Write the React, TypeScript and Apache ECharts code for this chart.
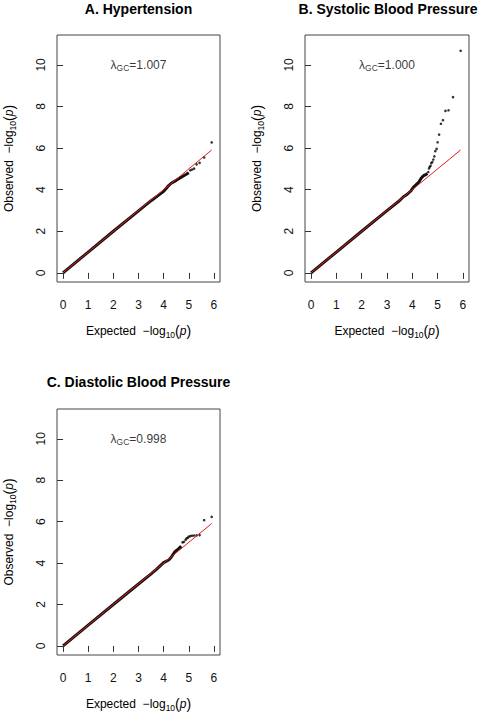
import React, { useEffect, useRef } from 'react';
import * as echarts from 'echarts';

const FONT = '"Liberation Sans", Arial, Helvetica, sans-serif';

const panelTitles = ['A. Hypertension', 'B. Systolic Blood Pressure', 'C. Diastolic Blood Pressure'];
const lambdaValues = ['1.007', '1.000', '0.998'];
const lambdaPos = [3, 10];

const xTicks = [0, 1, 2, 3, 4, 5, 6];
const yTicks = [0, 2, 4, 6, 8, 10];

// A. Hypertension
const hypBulkExpected = [0, 1, 2, 3, 3.5, 3.8, 4.0, 4.1, 4.2, 4.3, 4.5, 4.7, 4.9, 5.0];
const hypBulkObserved = [0, 1, 2, 2.98, 3.47, 3.74, 3.92, 4.06, 4.2, 4.31, 4.45, 4.6, 4.74, 4.82];
const hypTailExpected = [5.06, 5.13, 5.21, 5.31, 5.43, 5.61, 5.91];
const hypTailObserved = [4.93, 4.97, 5.01, 5.22, 5.29, 5.55, 6.27];

// B. Systolic Blood Pressure
const sbpBulkExpected = [0, 1, 2, 3, 3.5, 3.65, 3.8, 3.95, 4.05, 4.15, 4.25, 4.35, 4.45, 4.55, 4.6];
const sbpBulkObserved = [0, 1, 2, 2.99, 3.48, 3.66, 3.78, 3.95, 4.12, 4.24, 4.35, 4.55, 4.68, 4.74, 4.78];
const sbpTailExpected = [4.63, 4.66, 4.69, 4.72, 4.75, 4.79, 4.83, 4.87, 4.91, 4.96, 5.0, 5.06, 5.13, 5.21, 5.31, 5.43, 5.61, 5.91];
const sbpTailObserved = [4.85, 5.02, 5.1, 5.15, 5.28, 5.33, 5.45, 5.6, 5.85, 5.96, 6.28, 6.65, 7.17, 7.34, 7.79, 7.82, 8.45, 10.68];

// C. Diastolic Blood Pressure
const dbpBulkExpected = [0, 1, 2, 3, 3.5, 3.7, 4.0, 4.2, 4.3, 4.45, 4.6, 4.7];
const dbpBulkObserved = [0, 1, 2, 2.99, 3.48, 3.68, 4.02, 4.15, 4.28, 4.55, 4.7, 4.82];
const dbpTailExpected = [4.75, 4.8, 4.87, 4.91, 4.96, 5.0, 5.06, 5.13, 5.21, 5.31, 5.43, 5.61, 5.91];
const dbpTailObserved = [5.0, 5.02, 5.12, 5.19, 5.22, 5.28, 5.3, 5.32, 5.33, 5.34, 5.35, 6.07, 6.23];

// reference line: expected vs expected
const refExpected = [0, 5.91];

const panels = [
  { bulkX: hypBulkExpected, bulkY: hypBulkObserved, tailX: hypTailExpected, tailY: hypTailObserved },
  { bulkX: sbpBulkExpected, bulkY: sbpBulkObserved, tailX: sbpTailExpected, tailY: sbpTailObserved },
  { bulkX: dbpBulkExpected, bulkY: dbpBulkObserved, tailX: dbpTailExpected, tailY: dbpTailObserved },
];

const grids = [
  { left: 57, top: 35, width: 163, height: 247 },
  { left: 305, top: 35, width: 164, height: 247 },
  { left: 57, top: 409, width: 163, height: 246 },
];

const titlePos = [
  { x: 138.5, y: 9 },
  { x: 388, y: 9 },
  { x: 138.5, y: 382 },
];

const nameRich = {
  a: { fontSize: 12, fontFamily: FONT, color: '#000', verticalAlign: 'middle', lineHeight: 16 },
  s: { fontSize: 8.5, fontFamily: FONT, color: '#000', verticalAlign: 'bottom', lineHeight: 10 },
  p: { fontSize: 12, fontFamily: FONT, color: '#000', fontStyle: 'italic', verticalAlign: 'middle', lineHeight: 16 },
  b: { fontSize: 14, fontFamily: FONT, color: '#000', verticalAlign: 'middle', lineHeight: 16 },
};

export default function App() {
  const ref = useRef<HTMLDivElement>(null);
  useEffect(() => {
    if (!ref.current) return;
    const chart = echarts.init(ref.current, null, { renderer: 'svg' });
    const xAxis: any[] = [];
    const yAxis: any[] = [];
    const series: any[] = [];
    panels.forEach((p, i) => {
      xAxis.push({
        type: 'value',
        gridIndex: i,
        min: -0.24,
        max: 6.24,
        axisLine: { show: false },
        splitLine: { show: false },
        axisTick: { show: true, length: 6, customValues: xTicks, lineStyle: { color: '#333' } },
        axisLabel: { customValues: xTicks, fontSize: 12, fontFamily: FONT, color: '#111', margin: 17 },
        name: '{a|Expected  −log}{s|10}{b|(}{p|p}{b|)}',
        nameLocation: 'middle',
        nameGap: 41,
        nameTextStyle: { rich: nameRich },
      });
      yAxis.push({
        type: 'value',
        gridIndex: i,
        min: -0.44,
        max: 11.44,
        axisLine: { show: false },
        splitLine: { show: false },
        axisTick: { show: true, length: 6, customValues: yTicks, lineStyle: { color: '#333' } },
        axisLabel: { customValues: yTicks, fontSize: 12, fontFamily: FONT, color: '#111', rotate: 90, margin: 10 },
        name: '{a|Observed  −log}{s|10}{b|(}{p|p}{b|)}',
        nameLocation: 'middle',
        nameRotate: 90,
        nameGap: 40,
        nameTextStyle: { rich: nameRich },
      });
      series.push({
        type: 'line',
        xAxisIndex: i,
        yAxisIndex: i,
        data: p.bulkX.map((x, k) => [x, p.bulkY[k]]),
        showSymbol: false,
        lineStyle: { color: '#111', width: 3 },
        z: 2,
      });
      series.push({
        type: 'scatter',
        xAxisIndex: i,
        yAxisIndex: i,
        data: p.tailX.map((x, k) => [x, p.tailY[k]]),
        symbolSize: 2.6,
        itemStyle: { color: '#000' },
        z: 2,
      });
      series.push({
        type: 'line',
        xAxisIndex: i,
        yAxisIndex: i,
        data: refExpected.map((x) => [x, x]),
        showSymbol: false,
        lineStyle: { color: '#e31a1c', width: 1 },
        z: 3,
      });
      series.push({
        type: 'scatter',
        xAxisIndex: i,
        yAxisIndex: i,
        data: [lambdaPos],
        symbolSize: 1,
        itemStyle: { color: 'transparent' },
        label: {
          show: true,
          position: 'inside',
          formatter: '{l|λ}{s|GC}{v|=' + lambdaValues[i] + '}',
          rich: {
            l: { fontSize: 12, fontFamily: FONT, color: '#000', verticalAlign: 'middle', lineHeight: 16 },
            s: { fontSize: 8.5, fontFamily: FONT, color: '#000', verticalAlign: 'bottom', lineHeight: 10 },
            v: { fontSize: 12, fontFamily: FONT, color: '#000', verticalAlign: 'middle', lineHeight: 16 },
          },
        },
        z: 4,
      });
    });
    chart.setOption({
      animation: false,
      backgroundColor: '#fff',
      grid: grids.map((g) => ({ ...g, show: true, borderColor: '#444', borderWidth: 1, backgroundColor: 'transparent' })),
      xAxis,
      yAxis,
      series,
      graphic: panelTitles.map((t, i) => ({
        type: 'text',
        x: titlePos[i].x,
        y: titlePos[i].y,
        style: {
          text: t,
          font: `bold 14px ${FONT}`,
          fill: '#000',
          textAlign: 'center',
          textVerticalAlign: 'middle',
        },
      })),
    });
    return () => chart.dispose();
  }, []);
  return (
    <div
      ref={ref}
      style={{ position: 'fixed', left: 0, top: 0, width: 478, height: 713, background: '#fff' }}
    />
  );
}
